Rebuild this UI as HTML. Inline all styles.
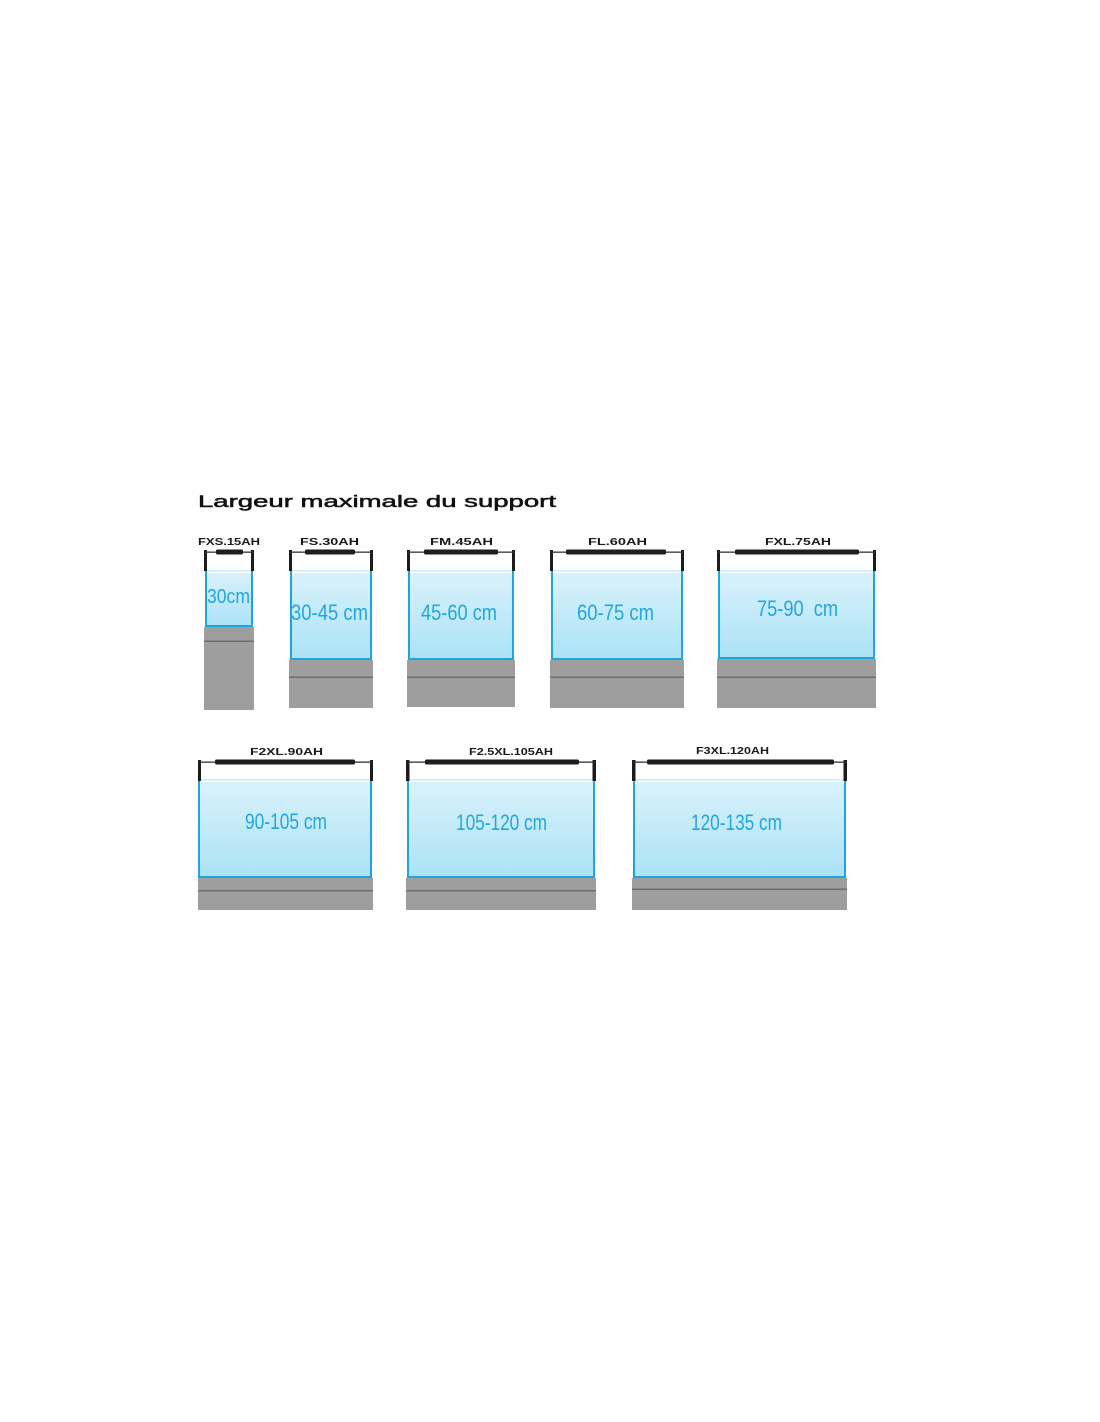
<!DOCTYPE html>
<html>
<head>
<meta charset="utf-8">
<style>
html,body{margin:0;padding:0;background:#fff;}
svg{display:block;}
.lbl{font-family:"Liberation Sans",sans-serif;font-weight:bold;font-size:10px;fill:#1a1a1a;}
.cm{font-family:"Liberation Sans",sans-serif;fill:#22a6df;}
</style>
</head>
<body>
<svg width="1100" height="1422" viewBox="0 0 1100 1422" xmlns="http://www.w3.org/2000/svg">
<defs>
<linearGradient id="w" x1="0" y1="0" x2="0" y2="1">
<stop offset="0" stop-color="#d9f2fc"/>
<stop offset="1" stop-color="#abe2f6"/>
</linearGradient>
</defs>
<rect width="1100" height="1422" fill="#fff"/>

<text x="198" y="507" font-family="Liberation Sans, sans-serif" font-size="17" fill="#111" stroke="#111" stroke-width="0.5" textLength="358" lengthAdjust="spacingAndGlyphs">Largeur maximale du support</text>

<!-- Tank 1 FXS.15AH -->
<g>
<rect x="204" y="627" width="50" height="83" fill="#9e9e9e"/>
<rect x="204" y="640.5" width="50" height="1.5" fill="#6e6e6e"/>
<rect x="205" y="570" width="48" height="1.5" fill="#c8ecf9"/>
<rect x="205" y="573" width="48" height="54" fill="url(#w)"/>
<path d="M206 571 V626 H252 V571" fill="none" stroke="#1ea5e0" stroke-width="2"/>
<rect x="204" y="550" width="3" height="21" fill="#1c1c1c"/>
<rect x="251" y="550" width="3" height="21" fill="#1c1c1c"/>
<rect x="205" y="551.5" width="48" height="1.3" fill="#333"/>
<rect x="216" y="549.5" width="27" height="5" rx="1.5" fill="#1e1e1e"/>
<text class="lbl" x="198" y="545" textLength="62" lengthAdjust="spacingAndGlyphs">FXS.15AH</text>
<text class="cm" x="207" y="603" font-size="20" textLength="43" lengthAdjust="spacingAndGlyphs">30cm</text>
</g>

<!-- Tank 2 FS.30AH -->
<g>
<rect x="289" y="660" width="84" height="48" fill="#9e9e9e"/>
<rect x="289" y="676.5" width="84" height="1.5" fill="#6e6e6e"/>
<rect x="290" y="570" width="82" height="1.5" fill="#c8ecf9"/>
<rect x="290" y="573" width="82" height="87" fill="url(#w)"/>
<path d="M291 571 V659 H371 V571" fill="none" stroke="#1ea5e0" stroke-width="2"/>
<rect x="289" y="550" width="3" height="21" fill="#1c1c1c"/>
<rect x="370" y="550" width="3" height="21" fill="#1c1c1c"/>
<rect x="290" y="551.5" width="82" height="1.3" fill="#333"/>
<rect x="305" y="549.5" width="50" height="5" rx="1.5" fill="#1e1e1e"/>
<text class="lbl" x="300" y="545" textLength="59" lengthAdjust="spacingAndGlyphs">FS.30AH</text>
<text class="cm" x="291" y="620" font-size="22" textLength="77" lengthAdjust="spacingAndGlyphs">30-45 cm</text>
</g>

<!-- Tank 3 FM.45AH -->
<g>
<rect x="407" y="660" width="108" height="47" fill="#9e9e9e"/>
<rect x="407" y="676.5" width="108" height="1.5" fill="#6e6e6e"/>
<rect x="408" y="570" width="106" height="1.5" fill="#c8ecf9"/>
<rect x="408" y="573" width="106" height="87" fill="url(#w)"/>
<path d="M409 571 V659 H513 V571" fill="none" stroke="#1ea5e0" stroke-width="2"/>
<rect x="407" y="550" width="3" height="21" fill="#1c1c1c"/>
<rect x="512" y="550" width="3" height="21" fill="#1c1c1c"/>
<rect x="408" y="551.5" width="106" height="1.3" fill="#333"/>
<rect x="424" y="549.5" width="74" height="5" rx="1.5" fill="#1e1e1e"/>
<text class="lbl" x="430" y="545" textLength="63" lengthAdjust="spacingAndGlyphs">FM.45AH</text>
<text class="cm" x="421" y="620" font-size="22" textLength="76" lengthAdjust="spacingAndGlyphs">45-60 cm</text>
</g>

<!-- Tank 4 FL.60AH -->
<g>
<rect x="550" y="660" width="134" height="48" fill="#9e9e9e"/>
<rect x="550" y="676.5" width="134" height="1.5" fill="#6e6e6e"/>
<rect x="551" y="570" width="132" height="1.5" fill="#c8ecf9"/>
<rect x="551" y="573" width="132" height="87" fill="url(#w)"/>
<path d="M552 571 V659 H682 V571" fill="none" stroke="#1ea5e0" stroke-width="2"/>
<rect x="550" y="550" width="3" height="21" fill="#1c1c1c"/>
<rect x="681" y="550" width="3" height="21" fill="#1c1c1c"/>
<rect x="551" y="551.5" width="132" height="1.3" fill="#333"/>
<rect x="566" y="549.5" width="100" height="5" rx="1.5" fill="#1e1e1e"/>
<text class="lbl" x="588" y="545" textLength="59" lengthAdjust="spacingAndGlyphs">FL.60AH</text>
<text class="cm" x="577" y="620" font-size="22" textLength="77" lengthAdjust="spacingAndGlyphs">60-75 cm</text>
</g>

<!-- Tank 5 FXL.75AH -->
<g>
<rect x="717" y="659" width="159" height="49" fill="#9e9e9e"/>
<rect x="717" y="676.5" width="159" height="1.5" fill="#6e6e6e"/>
<rect x="718" y="570" width="157" height="1.5" fill="#c8ecf9"/>
<rect x="718" y="573" width="157" height="86" fill="url(#w)"/>
<path d="M719 571 V658 H874 V571" fill="none" stroke="#1ea5e0" stroke-width="2"/>
<rect x="717" y="550" width="3" height="21" fill="#1c1c1c"/>
<rect x="873" y="550" width="3" height="21" fill="#1c1c1c"/>
<rect x="718" y="551.5" width="157" height="1.3" fill="#333"/>
<rect x="735" y="549.5" width="124" height="5" rx="1.5" fill="#1e1e1e"/>
<text class="lbl" x="765" y="545" textLength="66" lengthAdjust="spacingAndGlyphs">FXL.75AH</text>
<text class="cm" x="757" y="616" font-size="22" textLength="81" lengthAdjust="spacingAndGlyphs" xml:space="preserve">75-90  cm</text>
</g>

<!-- Tank 6 F2XL.90AH -->
<g>
<rect x="198" y="878" width="175" height="32" fill="#9e9e9e"/>
<rect x="198" y="890" width="175" height="1.5" fill="#6e6e6e"/>
<rect x="198" y="779" width="174" height="1.5" fill="#c8ecf9"/>
<rect x="198" y="782" width="174" height="96" fill="url(#w)"/>
<path d="M199 780 V877 H371 V780" fill="none" stroke="#1ea5e0" stroke-width="2"/>
<rect x="198" y="760" width="3" height="21" fill="#1c1c1c"/>
<rect x="370" y="760" width="3" height="21" fill="#1c1c1c"/>
<rect x="199" y="761.5" width="173" height="1.3" fill="#333"/>
<rect x="215" y="759.5" width="140" height="5" rx="1.5" fill="#1e1e1e"/>
<text class="lbl" x="250" y="755" textLength="73" lengthAdjust="spacingAndGlyphs">F2XL.90AH</text>
<text class="cm" x="245" y="829" font-size="22" textLength="82" lengthAdjust="spacingAndGlyphs">90-105 cm</text>
</g>

<!-- Tank 7 F2.5XL.105AH -->
<g>
<rect x="406" y="878" width="190" height="32" fill="#9e9e9e"/>
<rect x="406" y="890" width="190" height="1.5" fill="#6e6e6e"/>
<rect x="407" y="779" width="188" height="1.5" fill="#c8ecf9"/>
<rect x="407" y="782" width="188" height="96" fill="url(#w)"/>
<path d="M408 780 V877 H594 V780" fill="none" stroke="#1ea5e0" stroke-width="2"/>
<rect x="406" y="760" width="3.5" height="21" fill="#1c1c1c"/>
<rect x="592.5" y="760" width="3.5" height="21" fill="#1c1c1c"/>
<rect x="407" y="761.5" width="188" height="1.3" fill="#333"/>
<rect x="425" y="759.5" width="154" height="5" rx="1.5" fill="#1e1e1e"/>
<text class="lbl" x="469" y="755" textLength="84" lengthAdjust="spacingAndGlyphs">F2.5XL.105AH</text>
<text class="cm" x="456" y="830" font-size="22" textLength="91" lengthAdjust="spacingAndGlyphs">105-120 cm</text>
</g>

<!-- Tank 8 F3XL.120AH -->
<g>
<rect x="632" y="878" width="215" height="32" fill="#9e9e9e"/>
<rect x="632" y="888.5" width="215" height="1.5" fill="#6e6e6e"/>
<rect x="633" y="779" width="213" height="1.5" fill="#c8ecf9"/>
<rect x="633" y="782" width="213" height="96" fill="url(#w)"/>
<path d="M634 780 V877 H845 V780" fill="none" stroke="#1ea5e0" stroke-width="2"/>
<rect x="632" y="760" width="3.5" height="21" fill="#1c1c1c"/>
<rect x="843.5" y="760" width="3.5" height="21" fill="#1c1c1c"/>
<rect x="633" y="761.5" width="213" height="1.3" fill="#333"/>
<rect x="647" y="759.5" width="187" height="5" rx="1.5" fill="#1e1e1e"/>
<text class="lbl" x="696" y="754" textLength="73" lengthAdjust="spacingAndGlyphs">F3XL.120AH</text>
<text class="cm" x="691" y="830" font-size="22" textLength="91" lengthAdjust="spacingAndGlyphs">120-135 cm</text>
</g>
</svg>
</body>
</html>
